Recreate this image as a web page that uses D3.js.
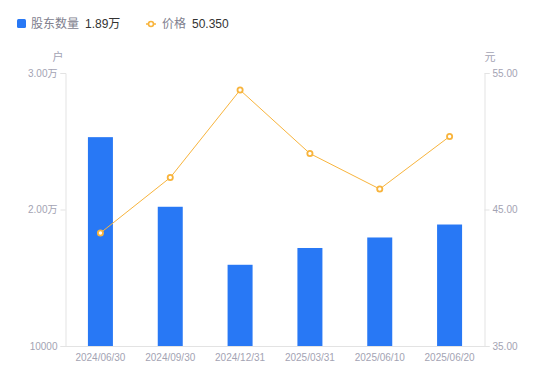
<!DOCTYPE html>
<html><head><meta charset="utf-8">
<script src="https://cdn.jsdelivr.net/npm/d3@7/dist/d3.min.js"></script>
<style>body{margin:0;background:#fff;font-family:"Noto Sans CJK SC","Noto Sans",sans-serif;}</style>
</head><body><div id="chart"></div>
<script>
const categories = ["2024/06/30","2024/09/30","2024/12/31","2025/03/31","2025/06/10","2025/06/20"];
const holders = [25300, 20200, 15950, 17180, 17950, 18900];
const prices = [43.28, 47.34, 53.75, 49.10, 46.50, 50.35];
const leftTicks = [10000, 20000, 30000];
const leftTickLabels = ["10000", "2.00万", "3.00万"];
const rightTicks = [35, 45, 55];
const rightTickLabels = ["35.00", "45.00", "55.00"];

const W = 550, H = 381;
const m = {l:65.5, r:65.5, t:73, b:35};
const numFont = "'Liberation Sans', Arial, 'Noto Sans CJK SC', sans-serif";
const svg = d3.select("#chart").append("svg").attr("width", W).attr("height", H);
const x = d3.scaleBand().domain(categories).range([m.l, W - m.r]);
const yL = d3.scaleLinear().domain([10000, 30000]).range([H - m.b, m.t]);
const yR = d3.scaleLinear().domain([35, 55]).range([H - m.b, m.t]);
const blue = "#2878F5", orange = "#F8B43C", axisC = "#e3e3e3", textC = "#a3a3b3";

// axes
const gL = svg.append("g").attr("transform", `translate(${m.l},0)`)
  .call(d3.axisLeft(yL).tickValues(leftTicks).tickFormat((d,i)=>leftTickLabels[i]).tickSize(5).tickPadding(3));
const gR = svg.append("g").attr("transform", `translate(${W - m.r},0)`)
  .call(d3.axisRight(yR).tickValues(rightTicks).tickFormat((d,i)=>rightTickLabels[i]).tickSize(5).tickPadding(3));
const gB = svg.append("g").attr("transform", `translate(0,${H - m.b})`)
  .call(d3.axisBottom(x).tickSize(0).tickPadding(8));
[gL, gR, gB].forEach(g => {
  g.selectAll("path.domain").attr("stroke", axisC);
  g.selectAll(".tick line").attr("stroke", axisC);
  g.selectAll("text").attr("fill", textC).style("font-size", "10px").style("font-family", numFont);
});

svg.append("text").attr("x", 58).attr("y", 61).attr("text-anchor", "middle").attr("fill", textC).style("font-size", "11px").text("户");
svg.append("text").attr("x", 490).attr("y", 61).attr("text-anchor", "middle").attr("fill", textC).style("font-size", "11px").text("元");

// bars
const bw = 25;
svg.append("g").selectAll("rect").data(holders).join("rect")
  .attr("x", (d,i) => x(categories[i]) + x.bandwidth()/2 - bw/2)
  .attr("y", d => yL(d))
  .attr("width", bw)
  .attr("height", d => yL(10000) - yL(d))
  .attr("fill", blue);

// line
const line = d3.line().x((d,i) => x(categories[i]) + x.bandwidth()/2).y(d => yR(d));
svg.append("path").datum(prices).attr("d", line).attr("fill", "none").attr("stroke", orange).attr("stroke-width", 1);
svg.append("g").selectAll("circle").data(prices).join("circle")
  .attr("cx", (d,i) => x(categories[i]) + x.bandwidth()/2)
  .attr("cy", d => yR(d)).attr("r", 2.6)
  .attr("fill", "#fff").attr("stroke", orange).attr("stroke-width", 1.8);

// legend
const lg = svg.append("g").style("font-size", "12px");
lg.append("rect").attr("x", 17).attr("y", 19).attr("width", 9).attr("height", 9).attr("rx", 1.5).attr("fill", blue);
lg.append("text").attr("x", 31).attr("y", 28).attr("fill", "#80808e").text("股东数量");
lg.append("text").attr("x", 85).attr("y", 28).attr("fill", "#333").style("font-family", numFont).text("1.89万");
lg.append("line").attr("x1", 146).attr("x2", 156).attr("y1", 24).attr("y2", 24).attr("stroke", orange).attr("stroke-width", 1.5);
lg.append("circle").attr("cx", 151).attr("cy", 24).attr("r", 2.5).attr("fill", "#fff").attr("stroke", orange).attr("stroke-width", 1.6);
lg.append("text").attr("x", 162).attr("y", 28).attr("fill", "#80808e").text("价格");
lg.append("text").attr("x", 192).attr("y", 28).attr("fill", "#333").style("font-family", numFont).text("50.350");
</script></body></html>
